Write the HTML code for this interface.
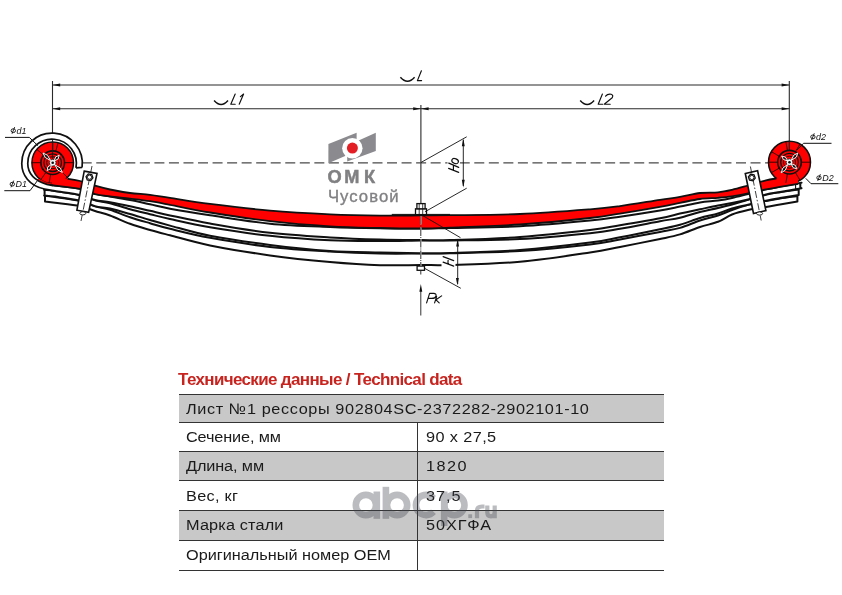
<!DOCTYPE html>
<html><head><meta charset="utf-8"><style>
html,body{margin:0;padding:0;background:#fff;width:842px;height:595px;overflow:hidden;position:relative}
svg,div{will-change:transform}
.t{position:absolute;font-family:"Liberation Sans",sans-serif;font-size:15.2px;line-height:15.2px;color:#1a1a1a;white-space:nowrap;transform:scaleX(1.07);transform-origin:0 0}
.title{position:absolute;left:177.6px;top:370.51px;font-family:"Liberation Sans",sans-serif;font-weight:bold;font-size:17px;line-height:17px;letter-spacing:-0.65px;color:#c8241f;white-space:nowrap}
</style></head><body>
<svg width="842" height="350" viewBox="0 0 842 350" style="position:absolute;left:0;top:0"><g stroke="#2a2a2a" stroke-width="1.1" fill="none"><path d="M52.5 81 V141 M789.3 81 V141 M420.9 105 V203.5"/><path d="M52.5 85.0 H789.3 M52.5 108.7 H789.3"/></g><path d="M52.50 85.00 L60.20 83.55 L60.20 86.45 Z" fill="#101010"/><path d="M789.30 85.00 L781.60 83.55 L781.60 86.45 Z" fill="#101010"/><path d="M52.50 108.70 L60.20 107.25 L60.20 110.15 Z" fill="#101010"/><path d="M789.30 108.70 L781.60 107.25 L781.60 110.15 Z" fill="#101010"/><path d="M420.90 108.70 L413.20 107.25 L413.20 110.15 Z" fill="#101010"/><path d="M420.90 108.70 L428.60 107.25 L428.60 110.15 Z" fill="#101010"/><path d="M400.4 77.2 Q407.5 85.2 414.6 77.2" stroke="#101010" stroke-width="1.5" fill="none"/><path d="M214.1 100.4 Q221.1 108.4 228.0 100.4" stroke="#101010" stroke-width="1.5" fill="none"/><path d="M580.2 100.4 Q587.2 108.4 594.1 100.4" stroke="#101010" stroke-width="1.5" fill="none"/><path d="M81.7 162.8 H776" stroke="#4a4a4a" stroke-width="1.3" stroke-dasharray="10 4.54" fill="none"/><g stroke="#101010" stroke-width="2" fill="#fff" stroke-linejoin="round"><path d="M45.00 196.00 C46.67 196.17 49.17 196.17 55.00 197.00 C60.83 197.83 73.33 199.43 80.00 201.00 C86.67 202.57 90.00 204.93 95.00 206.40 C100.00 207.87 104.17 208.00 110.00 209.80 C115.83 211.60 123.33 214.97 130.00 217.20 C136.67 219.43 143.33 221.27 150.00 223.20 C156.67 225.13 160.00 226.37 170.00 228.80 C180.00 231.23 193.33 234.78 210.00 237.80 C226.67 240.82 250.00 244.62 270.00 246.90 C290.00 249.18 311.67 250.40 330.00 251.50 C348.33 252.60 364.83 253.17 380.00 253.50 C395.17 253.83 409.33 253.55 421.00 253.50 C432.67 253.45 433.50 253.62 450.00 253.20 C466.50 252.78 496.67 252.45 520.00 251.00 C543.33 249.55 573.33 246.43 590.00 244.50 C606.67 242.57 608.33 241.48 620.00 239.40 C631.67 237.32 650.00 233.92 660.00 232.00 C670.00 230.08 673.33 229.82 680.00 227.90 C686.67 225.98 693.67 222.57 700.00 220.50 C706.33 218.43 712.67 217.25 718.00 215.50 C723.33 213.75 727.00 211.77 732.00 210.00 C737.00 208.23 742.33 206.42 748.00 204.90 C753.67 203.38 760.67 201.98 766.00 200.90 C771.33 199.82 774.77 199.21 780.00 198.40 C785.23 197.59 794.50 196.44 797.40 196.05 L797.40 201.53 C794.50 202.01 785.23 203.49 780.00 204.40 C774.77 205.31 771.33 206.07 766.00 207.00 C760.67 207.93 753.67 208.75 748.00 210.00 C742.33 211.25 737.00 212.53 732.00 214.50 C727.00 216.47 723.33 219.72 718.00 221.80 C712.67 223.88 706.33 224.90 700.00 227.00 C693.67 229.10 686.67 232.40 680.00 234.40 C673.33 236.40 670.00 236.92 660.00 239.00 C650.00 241.08 631.67 244.65 620.00 246.90 C608.33 249.15 606.67 250.02 590.00 252.50 C573.33 254.98 543.33 259.72 520.00 261.80 C496.67 263.88 466.50 264.47 450.00 265.00 C433.50 265.53 432.67 264.97 421.00 265.00 C409.33 265.03 395.17 265.70 380.00 265.20 C364.83 264.70 348.33 263.63 330.00 262.00 C311.67 260.37 290.00 258.17 270.00 255.40 C250.00 252.63 226.67 248.75 210.00 245.40 C193.33 242.05 180.00 237.87 170.00 235.30 C160.00 232.73 156.67 231.92 150.00 230.00 C143.33 228.08 136.67 226.22 130.00 223.80 C123.33 221.38 115.83 217.63 110.00 215.50 C104.17 213.37 100.00 212.55 95.00 211.00 C90.00 209.45 86.67 207.57 80.00 206.20 C73.33 204.83 60.83 203.58 55.00 202.80 C49.17 202.02 46.67 201.72 45.00 201.50 Z"/><path d="M44.60 189.96 C44.67 189.97 43.27 189.83 45.00 190.00 C46.73 190.17 49.17 190.13 55.00 191.00 C60.83 191.87 73.33 193.65 80.00 195.20 C86.67 196.75 90.00 198.97 95.00 200.30 C100.00 201.63 104.17 201.72 110.00 203.20 C115.83 204.68 123.33 207.37 130.00 209.20 C136.67 211.03 143.33 212.55 150.00 214.20 C156.67 215.85 160.00 216.92 170.00 219.10 C180.00 221.28 193.33 224.52 210.00 227.30 C226.67 230.08 250.00 233.63 270.00 235.80 C290.00 237.97 311.67 239.43 330.00 240.30 C348.33 241.17 364.83 240.97 380.00 241.00 C395.17 241.03 409.33 240.60 421.00 240.50 C432.67 240.40 433.50 240.63 450.00 240.40 C466.50 240.17 496.67 240.30 520.00 239.10 C543.33 237.90 573.33 234.92 590.00 233.20 C606.67 231.48 608.33 230.78 620.00 228.80 C631.67 226.82 650.00 223.15 660.00 221.30 C670.00 219.45 673.33 219.25 680.00 217.70 C686.67 216.15 693.67 213.62 700.00 212.00 C706.33 210.38 712.67 209.25 718.00 208.00 C723.33 206.75 727.00 205.88 732.00 204.50 C737.00 203.12 742.33 201.33 748.00 199.70 C753.67 198.07 760.67 195.95 766.00 194.70 C771.33 193.45 774.55 193.05 780.00 192.20 C785.45 191.35 795.58 190.02 798.70 189.58 L798.70 195.01 C795.58 195.53 785.45 197.15 780.00 198.10 C774.55 199.05 771.33 199.60 766.00 200.70 C760.67 201.80 753.67 203.40 748.00 204.70 C742.33 206.00 737.00 207.03 732.00 208.50 C727.00 209.97 723.33 211.92 718.00 213.50 C712.67 215.08 706.33 216.13 700.00 218.00 C693.67 219.87 686.67 222.83 680.00 224.70 C673.33 226.57 670.00 227.10 660.00 229.20 C650.00 231.30 631.67 235.07 620.00 237.30 C608.33 239.53 606.67 240.48 590.00 242.60 C573.33 244.72 543.33 248.27 520.00 250.00 C496.67 251.73 466.50 252.47 450.00 253.00 C433.50 253.53 432.67 253.28 421.00 253.20 C409.33 253.12 395.17 252.88 380.00 252.50 C364.83 252.12 348.33 252.17 330.00 250.90 C311.67 249.63 290.00 247.42 270.00 244.90 C250.00 242.38 226.67 239.02 210.00 235.80 C193.33 232.58 180.00 228.23 170.00 225.60 C160.00 222.97 156.67 221.93 150.00 220.00 C143.33 218.07 136.67 215.90 130.00 214.00 C123.33 212.10 115.83 209.92 110.00 208.60 C104.17 207.28 100.00 207.43 95.00 206.10 C90.00 204.77 86.67 202.18 80.00 200.60 C73.33 199.02 60.83 197.45 55.00 196.60 C49.17 195.75 46.73 195.69 45.00 195.50 C43.27 195.31 44.67 195.46 44.60 195.46 Z"/><path d="M47.00 184.48 C48.33 184.67 49.50 184.88 55.00 185.60 C60.50 186.32 73.33 187.40 80.00 188.80 C86.67 190.20 90.00 192.72 95.00 194.00 C100.00 195.28 104.17 195.48 110.00 196.50 C115.83 197.52 123.33 198.80 130.00 200.10 C136.67 201.40 143.33 202.87 150.00 204.30 C156.67 205.73 160.00 206.88 170.00 208.70 C180.00 210.52 193.33 212.70 210.00 215.20 C226.67 217.70 250.00 221.73 270.00 223.70 C290.00 225.67 311.67 226.23 330.00 227.00 C348.33 227.77 364.83 228.05 380.00 228.30 C395.17 228.55 409.33 228.57 421.00 228.50 C432.67 228.43 433.50 228.27 450.00 227.90 C466.50 227.53 496.67 227.52 520.00 226.30 C543.33 225.08 573.33 222.20 590.00 220.60 C606.67 219.00 608.33 218.38 620.00 216.70 C631.67 215.02 650.00 212.18 660.00 210.50 C670.00 208.82 673.33 207.93 680.00 206.60 C686.67 205.27 693.67 203.52 700.00 202.50 C706.33 201.48 712.67 201.25 718.00 200.50 C723.33 199.75 727.00 199.08 732.00 198.00 C737.00 196.92 742.33 195.43 748.00 194.00 C753.67 192.57 760.67 190.63 766.00 189.40 C771.33 188.17 774.33 187.67 780.00 186.60 C785.67 185.53 796.62 183.61 800.00 183.00 C803.38 182.39 800.25 182.95 800.30 182.95 L800.30 188.45 C800.25 188.46 803.38 187.92 800.00 188.50 C796.62 189.08 785.67 190.92 780.00 191.90 C774.33 192.88 771.33 193.13 766.00 194.40 C760.67 195.67 753.67 198.05 748.00 199.50 C742.33 200.95 737.00 202.10 732.00 203.10 C727.00 204.10 723.33 204.47 718.00 205.50 C712.67 206.53 706.33 207.95 700.00 209.30 C693.67 210.65 686.67 212.12 680.00 213.60 C673.33 215.08 670.00 216.27 660.00 218.20 C650.00 220.13 631.67 223.23 620.00 225.20 C608.33 227.17 606.67 228.03 590.00 230.00 C573.33 231.97 543.33 235.33 520.00 237.00 C496.67 238.67 466.50 239.50 450.00 240.00 C433.50 240.50 432.67 240.08 421.00 240.00 C409.33 239.92 395.17 239.93 380.00 239.50 C364.83 239.07 348.33 238.52 330.00 237.40 C311.67 236.28 290.00 235.12 270.00 232.80 C250.00 230.48 226.67 226.40 210.00 223.50 C193.33 220.60 180.00 217.52 170.00 215.40 C160.00 213.28 156.67 212.33 150.00 210.80 C143.33 209.27 136.67 207.63 130.00 206.20 C123.33 204.77 115.83 203.23 110.00 202.20 C104.17 201.17 100.00 201.22 95.00 200.00 C90.00 198.78 86.67 196.40 80.00 194.90 C73.33 193.40 60.50 191.92 55.00 191.00 C49.50 190.08 48.33 189.67 47.00 189.40 Z" stroke="none"/><path d="M47.00 184.48 C48.33 184.67 49.50 184.88 55.00 185.60 C60.50 186.32 73.33 187.40 80.00 188.80 C86.67 190.20 90.00 192.72 95.00 194.00 C100.00 195.28 104.17 195.48 110.00 196.50 C115.83 197.52 123.33 198.80 130.00 200.10 C136.67 201.40 143.33 202.87 150.00 204.30 C156.67 205.73 160.00 206.88 170.00 208.70 C180.00 210.52 193.33 212.70 210.00 215.20 C226.67 217.70 250.00 221.73 270.00 223.70 C290.00 225.67 311.67 226.23 330.00 227.00 C348.33 227.77 364.83 228.05 380.00 228.30 C395.17 228.55 409.33 228.57 421.00 228.50 C432.67 228.43 433.50 228.27 450.00 227.90 C466.50 227.53 496.67 227.52 520.00 226.30 C543.33 225.08 573.33 222.20 590.00 220.60 C606.67 219.00 608.33 218.38 620.00 216.70 C631.67 215.02 650.00 212.18 660.00 210.50 C670.00 208.82 673.33 207.93 680.00 206.60 C686.67 205.27 693.67 203.52 700.00 202.50 C706.33 201.48 712.67 201.25 718.00 200.50 C723.33 199.75 727.00 199.08 732.00 198.00 C737.00 196.92 742.33 195.43 748.00 194.00 C753.67 192.57 760.67 190.63 766.00 189.40 C771.33 188.17 774.33 187.67 780.00 186.60 C785.67 185.53 796.62 183.61 800.00 183.00 C803.38 182.39 800.25 182.95 800.30 182.95 M44.00 188.80 C44.17 188.83 43.17 188.63 45.00 189.00 C46.83 189.37 49.17 190.02 55.00 191.00 C60.83 191.98 73.33 193.40 80.00 194.90 C86.67 196.40 90.00 198.78 95.00 200.00 C100.00 201.22 104.17 201.17 110.00 202.20 C115.83 203.23 123.33 204.77 130.00 206.20 C136.67 207.63 143.33 209.27 150.00 210.80 C156.67 212.33 160.00 213.28 170.00 215.40 C180.00 217.52 193.33 220.60 210.00 223.50 C226.67 226.40 250.00 230.48 270.00 232.80 C290.00 235.12 311.67 236.28 330.00 237.40 C348.33 238.52 364.83 239.07 380.00 239.50 C395.17 239.93 409.33 239.92 421.00 240.00 C432.67 240.08 433.50 240.50 450.00 240.00 C466.50 239.50 496.67 238.67 520.00 237.00 C543.33 235.33 573.33 231.97 590.00 230.00 C606.67 228.03 608.33 227.17 620.00 225.20 C631.67 223.23 650.00 220.13 660.00 218.20 C670.00 216.27 673.33 215.08 680.00 213.60 C686.67 212.12 693.67 210.65 700.00 209.30 C706.33 207.95 712.67 206.53 718.00 205.50 C723.33 204.47 727.00 204.10 732.00 203.10 C737.00 202.10 742.33 200.95 748.00 199.50 C753.67 198.05 760.67 195.67 766.00 194.40 C771.33 193.13 774.33 192.88 780.00 191.90 C785.67 190.92 796.62 189.08 800.00 188.50 C803.38 187.92 800.25 188.46 800.30 188.45 M800.3 182.95 V188.45" fill="none"/></g><path d="M82.09 167.40 A30.30 30.30 0 1 0 21.75 163.45 C21.75 174.5 29 186 44.6 189 L52 190.4 L53 185.6 L46.9 184.4 C33 180 27.8 172.5 27.75 163.45 A24.30 24.30 0 1 1 75.94 167.88 Z" fill="#fff"/><circle cx="52.7" cy="162.7" r="20.8" fill="#f00" stroke="#101010" stroke-width="1.5"/><circle cx="789.5" cy="162.2" r="21" fill="#f00" stroke="#101010" stroke-width="1.5"/><path d="M52.00 176.28 C52.50 176.30 50.33 175.61 55.00 176.40 C59.67 177.19 73.33 179.45 80.00 181.00 C86.67 182.55 90.00 184.28 95.00 185.70 C100.00 187.12 104.17 188.28 110.00 189.50 C115.83 190.72 123.33 192.12 130.00 193.00 C136.67 193.88 143.33 193.98 150.00 194.80 C156.67 195.62 160.00 196.38 170.00 197.90 C180.00 199.42 193.33 201.78 210.00 203.90 C226.67 206.02 250.00 208.87 270.00 210.60 C290.00 212.33 311.67 213.47 330.00 214.30 C348.33 215.13 364.83 215.42 380.00 215.60 C395.17 215.78 409.33 215.47 421.00 215.40 C432.67 215.33 433.50 215.43 450.00 215.20 C466.50 214.97 496.67 214.98 520.00 214.00 C543.33 213.02 573.33 210.62 590.00 209.30 C606.67 207.98 608.33 207.68 620.00 206.10 C631.67 204.52 650.00 201.33 660.00 199.80 C670.00 198.27 673.33 198.03 680.00 196.90 C686.67 195.77 693.67 193.77 700.00 193.00 C706.33 192.23 712.67 192.83 718.00 192.30 C723.33 191.77 727.00 190.93 732.00 189.80 C737.00 188.67 742.33 187.07 748.00 185.50 C753.67 183.93 760.67 181.68 766.00 180.40 C771.33 179.12 774.67 178.58 780.00 177.80 C785.33 177.02 795.00 176.07 798.00 175.73 L798.00 183.83 C795.00 184.33 785.33 185.87 780.00 186.80 C774.67 187.73 771.33 188.32 766.00 189.40 C760.67 190.48 753.67 192.15 748.00 193.30 C742.33 194.45 737.00 195.55 732.00 196.30 C727.00 197.05 723.33 197.35 718.00 197.80 C712.67 198.25 706.33 198.15 700.00 199.00 C693.67 199.85 686.67 201.60 680.00 202.90 C673.33 204.20 670.00 205.02 660.00 206.80 C650.00 208.58 631.67 211.73 620.00 213.60 C608.33 215.47 606.67 216.18 590.00 218.00 C573.33 219.82 543.33 222.88 520.00 224.50 C496.67 226.12 466.50 227.03 450.00 227.70 C433.50 228.37 432.67 228.45 421.00 228.50 C409.33 228.55 395.17 228.37 380.00 228.00 C364.83 227.63 348.33 227.45 330.00 226.30 C311.67 225.15 290.00 223.40 270.00 221.10 C250.00 218.80 226.67 215.22 210.00 212.50 C193.33 209.78 180.00 206.68 170.00 204.80 C160.00 202.92 156.67 202.23 150.00 201.20 C143.33 200.17 136.67 199.42 130.00 198.60 C123.33 197.78 115.83 197.07 110.00 196.30 C104.17 195.53 100.00 195.25 95.00 194.00 C90.00 192.75 86.67 190.20 80.00 188.80 C73.33 187.40 59.67 186.20 55.00 185.60 C50.33 185.00 52.50 185.25 52.00 185.18 Z" fill="#f00"/><path d="M39.89 179.09 A20.8 20.8 0 0 0 64.63 179.74 L68 187.2 L53 185.6 L46.9 184.4 L36.5 179.2 Z" fill="#f00"/><path d="M82.09 167.40 A30.30 30.30 0 1 0 21.75 163.45 C21.75 174.5 29 186 44.6 189 L52 190.4 M75.94 167.88 A24.30 24.30 0 1 0 27.75 163.45 C27.8 172.5 33 180 46.9 184.4 L53 185.6 M82.09 167.40 L75.94 167.88" stroke="#101010" stroke-width="1.7" fill="none"/><path d="M795.6 184 V189" stroke="#101010" stroke-width="1.1"/><path d="M67.50 178.70 C69.58 179.08 75.42 179.83 80.00 181.00 C84.58 182.17 90.00 184.28 95.00 185.70 C100.00 187.12 104.17 188.28 110.00 189.50 C115.83 190.72 123.33 192.12 130.00 193.00 C136.67 193.88 143.33 193.98 150.00 194.80 C156.67 195.62 160.00 196.38 170.00 197.90 C180.00 199.42 193.33 201.78 210.00 203.90 C226.67 206.02 250.00 208.87 270.00 210.60 C290.00 212.33 311.67 213.47 330.00 214.30 C348.33 215.13 364.83 215.42 380.00 215.60 C395.17 215.78 409.33 215.47 421.00 215.40 C432.67 215.33 433.50 215.43 450.00 215.20 C466.50 214.97 496.67 214.98 520.00 214.00 C543.33 213.02 573.33 210.62 590.00 209.30 C606.67 207.98 608.33 207.68 620.00 206.10 C631.67 204.52 650.00 201.33 660.00 199.80 C670.00 198.27 673.33 198.03 680.00 196.90 C686.67 195.77 693.67 193.77 700.00 193.00 C706.33 192.23 712.67 192.83 718.00 192.30 C723.33 191.77 727.00 190.93 732.00 189.80 C737.00 188.67 742.33 187.07 748.00 185.50 C753.67 183.93 761.25 181.57 766.00 180.40 C770.75 179.23 774.75 178.78 776.50 178.45 M50.00 184.90 C50.83 185.02 50.00 184.95 55.00 185.60 C60.00 186.25 73.33 187.40 80.00 188.80 C86.67 190.20 90.00 192.75 95.00 194.00 C100.00 195.25 104.17 195.53 110.00 196.30 C115.83 197.07 123.33 197.78 130.00 198.60 C136.67 199.42 143.33 200.17 150.00 201.20 C156.67 202.23 160.00 202.92 170.00 204.80 C180.00 206.68 193.33 209.78 210.00 212.50 C226.67 215.22 250.00 218.80 270.00 221.10 C290.00 223.40 311.67 225.15 330.00 226.30 C348.33 227.45 364.83 227.63 380.00 228.00 C395.17 228.37 409.33 228.55 421.00 228.50 C432.67 228.45 433.50 228.37 450.00 227.70 C466.50 227.03 496.67 226.12 520.00 224.50 C543.33 222.88 573.33 219.82 590.00 218.00 C606.67 216.18 608.33 215.47 620.00 213.60 C631.67 211.73 650.00 208.58 660.00 206.80 C670.00 205.02 673.33 204.20 680.00 202.90 C686.67 201.60 693.67 199.85 700.00 199.00 C706.33 198.15 712.67 198.25 718.00 197.80 C723.33 197.35 727.00 197.05 732.00 196.30 C737.00 195.55 742.33 194.45 748.00 193.30 C753.67 192.15 760.67 190.48 766.00 189.40 C771.33 188.32 774.67 187.73 780.00 186.80 C785.33 185.87 795.00 184.33 798.00 183.83" stroke="#101010" stroke-width="1.8" fill="none" stroke-linejoin="round"/><path d="M55.81 151.11 L58.08 142.61" stroke="#200" stroke-width="0.9"/><path d="M52.70 150.70 L52.70 141.90" stroke="#200" stroke-width="0.9"/><path d="M40.70 162.70 L31.90 162.70" stroke="#200" stroke-width="0.9"/><path d="M64.70 162.70 L73.50 162.70" stroke="#200" stroke-width="0.9"/><path d="M50.62 174.52 L49.09 183.18" stroke="#200" stroke-width="0.9"/><path d="M45.82 172.53 L40.77 179.74" stroke="#200" stroke-width="0.9"/><path d="M43.51 154.99 L36.77 149.33" stroke="#200" stroke-width="0.9"/><path d="M61.19 171.19 L67.41 177.41" stroke="#200" stroke-width="0.9"/><circle cx="52.70" cy="162.70" r="11.8" fill="none" stroke="#101010" stroke-width="1.6"/><circle cx="52.70" cy="162.70" r="8.8" fill="none" stroke="#101010" stroke-width="1.3"/><circle cx="52.70" cy="162.70" r="6" fill="none" stroke="#300" stroke-width="1"/><circle cx="52.70" cy="162.70" r="3.4" fill="#f4f4f4" stroke="#101010" stroke-width="0.8"/><path d="M43.00 153.00 L45.26 157.53 L50.57 160.57 L47.53 155.26 Z" fill="#111" stroke="#fff" stroke-width="0.95" stroke-linejoin="round"/><path d="M62.40 172.40 L60.14 167.87 L54.83 164.83 L57.87 170.14 Z" fill="#111" stroke="#fff" stroke-width="0.95" stroke-linejoin="round"/><path d="M59.20 155.30 L55.72 156.83 L54.13 161.07 L58.13 158.95 Z" fill="#111" stroke="#fff" stroke-width="0.95" stroke-linejoin="round"/><path d="M47.20 170.60 L50.44 168.75 L51.49 164.44 L47.81 166.92 Z" fill="#111" stroke="#fff" stroke-width="0.95" stroke-linejoin="round"/><circle cx="52.70" cy="162.70" r="1.3" fill="#111"/><path d="M787.42 150.38 L785.85 141.52" stroke="#200" stroke-width="0.9"/><path d="M795.50 151.81 L800.00 144.01" stroke="#200" stroke-width="0.9"/><path d="M801.50 162.20 L810.50 162.20" stroke="#200" stroke-width="0.9"/><path d="M777.50 162.20 L768.50 162.20" stroke="#200" stroke-width="0.9"/><path d="M795.50 172.59 L800.00 180.39" stroke="#200" stroke-width="0.9"/><path d="M787.42 174.02 L785.85 182.88" stroke="#200" stroke-width="0.9"/><path d="M779.11 156.20 L771.31 151.70" stroke="#200" stroke-width="0.9"/><path d="M779.11 168.20 L771.31 172.70" stroke="#200" stroke-width="0.9"/><circle cx="789.50" cy="162.20" r="11.8" fill="none" stroke="#101010" stroke-width="1.6"/><circle cx="789.50" cy="162.20" r="8.8" fill="none" stroke="#101010" stroke-width="1.3"/><circle cx="789.50" cy="162.20" r="6" fill="none" stroke="#300" stroke-width="1"/><circle cx="789.50" cy="162.20" r="3.4" fill="#f4f4f4" stroke="#101010" stroke-width="0.8"/><path d="M781.70 156.20 L783.45 159.57 L787.78 160.88 L785.41 157.03 Z" fill="#111" stroke="#fff" stroke-width="0.95" stroke-linejoin="round"/><path d="M796.80 168.80 L795.32 165.30 L791.11 163.65 L793.17 167.68 Z" fill="#111" stroke="#fff" stroke-width="0.95" stroke-linejoin="round"/><path d="M797.80 153.10 L793.71 155.21 L791.33 160.20 L796.08 157.36 Z" fill="#111" stroke="#fff" stroke-width="0.95" stroke-linejoin="round"/><path d="M781.20 172.80 L785.36 170.08 L787.67 164.53 L782.85 168.10 Z" fill="#111" stroke="#fff" stroke-width="0.95" stroke-linejoin="round"/><circle cx="789.50" cy="162.20" r="1.3" fill="#111"/><path d="M52.5 141 V159 M789.3 141 V150" stroke="#1a1a1a" stroke-width="1.1"/><path d="M84.20 171.10 L97.00 173.40 L88.60 212.30 L76.90 210.20 Z" fill="#fff" stroke="#101010" stroke-width="1.6"/><path d="M92.00 166.00 L81.00 221.00" stroke="#101010" stroke-width="0.8" stroke-dasharray="7 2 1.5 2"/><path d="M92.95 177.81 L90.70 180.49 L87.25 179.88 L86.05 176.59 L88.30 173.91 L91.75 174.52 Z" fill="#fff" stroke="#101010" stroke-width="1.3"/><circle cx="89.50" cy="177.20" r="2.1" fill="none" stroke="#101010" stroke-width="0.9"/><ellipse cx="82.80" cy="213.30" rx="3" ry="1.6" fill="#fff" stroke="#101010" stroke-width="0.9"/><path d="M745.30 173.50 L757.60 170.80 L765.90 210.60 L753.50 213.50 Z" fill="#fff" stroke="#101010" stroke-width="1.6"/><path d="M750.40 166.50 L761.20 220.50" stroke="#101010" stroke-width="0.8" stroke-dasharray="7 2 1.5 2"/><path d="M755.25 178.11 L753.00 180.79 L749.55 180.18 L748.35 176.89 L750.60 174.21 L754.05 174.82 Z" fill="#fff" stroke="#101010" stroke-width="1.3"/><circle cx="751.80" cy="177.50" r="2.1" fill="none" stroke="#101010" stroke-width="0.9"/><ellipse cx="759.60" cy="213.50" rx="3" ry="1.6" fill="#fff" stroke="#101010" stroke-width="0.9"/><path d="M447.5 156.5 L460 156.5 L460 174 L447.5 174 Z M441.5 255 L455.5 255 L455.5 267.5 L441.5 267.5 Z" fill="#fff"/><path d="M421.4 70.8 L417.4 80.6 H421.6 M235.2 94 L230.8 104.2 H235.2 M243.6 94 L239.2 104.2 M243.6 94 L240.4 96.6 M602.4 94 L598.2 104.2 H602.6 M605.6 96.2 Q607.5 93.6 611.2 94.2 Q613.6 95 612.2 97.8 L604.2 104.2 H610.2 M448.6 168.4 L458.7 172.4 M448.8 163.1 L458.7 167.4 M453.4 165.3 L453.4 169.9 M443.1 256.6 L453.7 260.6 M443.1 262.1 L453.7 266.1 M448.2 258.8 L447.9 264 M426.6 302.9 L429.6 293.4 H433.6 Q436.6 293.6 436 296 Q435.4 298.4 431.6 298.4 H428.2 M434.6 302.9 L436.6 296.6 M441.6 295.9 L436 299.8 L439.2 302.9" stroke="#101010" stroke-width="1.15" fill="none" stroke-linecap="round" stroke-linejoin="round"/><ellipse cx="455.1" cy="161.1" rx="2.4" ry="3.4" transform="rotate(-68 455.1 161.1)" stroke="#101010" stroke-width="1.1" fill="none"/><path d="M391.8 214.4 H450" stroke="#101010" stroke-width="1"/><rect x="415.5" y="208.8" width="11" height="5.8" fill="#fff" stroke="#101010" stroke-width="1.3"/><rect x="416.9" y="203.6" width="8.2" height="5.2" fill="#fff" stroke="#101010" stroke-width="1.3"/><path d="M419.2 204 V214 M422.7 204 V214" stroke="#101010" stroke-width="0.8"/><rect x="417.1" y="266.1" width="7.4" height="4.2" fill="#fff" stroke="#101010" stroke-width="1.3"/><path d="M420.8 216 V266" stroke="#fff" stroke-width="1.4" stroke-dasharray="8.5 3"/><path d="M420.8 216 V266" stroke="#333" stroke-width="1" stroke-dasharray="8.5 1 1 1"/><path d="M420.8 270.5 V274.5 M420.8 290 V315.5" stroke="#333" stroke-width="1"/><path d="M420.80 284.00 L419.35 291.70 L422.25 291.70 Z" fill="#101010"/><path d="M420.9 162.5 L466.7 136.8 M425.1 211.7 L466.7 188.2 M463.3 140 V186 M422.6 215.5 L460.5 237.7 M424.4 268.2 L460.8 288.3 M457.7 241 V284" stroke="#101010" stroke-width="0.9" fill="none"/><path d="M463.30 138.60 L461.85 146.30 L464.75 146.30 Z" fill="#101010"/><path d="M463.30 187.40 L461.85 179.70 L464.75 179.70 Z" fill="#101010"/><path d="M457.60 238.80 L456.15 246.50 L459.05 246.50 Z" fill="#101010"/><path d="M457.40 285.60 L455.95 277.90 L458.85 277.90 Z" fill="#101010"/><path d="M5 137.4 H29.3 L37.9 145.7 M4.3 190.7 H30 L37.9 180 M831.5 143.3 H803.5 L797 150 M838.3 183.7 H811 L805.8 178.4" stroke="#101010" stroke-width="1" fill="none"/><ellipse cx="13.30" cy="130.67" rx="2.2" ry="1.9" stroke="#101010" stroke-width="0.9" fill="none"/><path d="M14.70 127.10 L12.00 133.80" stroke="#101010" stroke-width="0.9"/><text x="0.00" y="133.60" font-family="Liberation Sans" font-style="italic" font-size="9.4" fill="#101010" transform="translate(16.50 0) scale(0.95 1) translate(0.00 0)">d1</text><ellipse cx="12.30" cy="184.17" rx="2.2" ry="1.9" stroke="#101010" stroke-width="0.9" fill="none"/><path d="M13.70 180.60 L11.00 187.30" stroke="#101010" stroke-width="0.9"/><text x="0.00" y="187.10" font-family="Liberation Sans" font-style="italic" font-size="9.4" fill="#101010" transform="translate(15.50 0) scale(0.95 1) translate(0.00 0)">D1</text><ellipse cx="812.90" cy="136.88" rx="2.2" ry="1.9" stroke="#101010" stroke-width="0.9" fill="none"/><path d="M814.30 133.30 L811.60 140.00" stroke="#101010" stroke-width="0.9"/><text x="0.00" y="139.80" font-family="Liberation Sans" font-style="italic" font-size="9.4" fill="#101010" transform="translate(816.10 0) scale(0.95 1) translate(0.00 0)">d2</text><ellipse cx="819.00" cy="177.77" rx="2.2" ry="1.9" stroke="#101010" stroke-width="0.9" fill="none"/><path d="M820.40 174.20 L817.70 180.90" stroke="#101010" stroke-width="0.9"/><text x="0.00" y="180.70" font-family="Liberation Sans" font-style="italic" font-size="9.4" fill="#101010" transform="translate(822.20 0) scale(0.95 1) translate(0.00 0)">D2</text><path d="M328.4 144.1 L356.6 132.7 V151 L328.4 163.3 Z" fill="#8b8b8f"/><path d="M358.6 140.4 L375.8 132.7 V150.9 L347.2 161.6 V155 L358.6 146 Z" fill="#8b8b8f"/><circle cx="352.35" cy="148.25" r="10.2" fill="#fff"/><circle cx="352.4" cy="148.1" r="5.5" fill="#e31e24"/><text y="182.8" font-family="Liberation Sans" font-weight="bold" font-size="18.2" fill="#808083" stroke="#808083" stroke-width="0.5"><tspan x="327.5">О</tspan><tspan x="344.3">М</tspan><tspan x="364">К</tspan></text><text x="327.9" y="201.7" font-family="Liberation Sans" font-size="16.7" letter-spacing="1.05" fill="#808083" stroke="#808083" stroke-width="0.35">Чусовой</text></svg>
<div class="title">Технические данные / Technical data</div>
<div style="position:absolute;left:179px;top:394.6px;width:485px;height:27.8px;background:#c8c8c8"></div>
<div class="t" style="left:186.2px;top:401.33px;letter-spacing:0.57px">Лист №1 рессоры 902804SC-2372282-2902101-10</div>
<div style="position:absolute;left:179px;top:422.4px;width:485px;height:29.1px;background:#fff"></div>
<div class="t" style="left:186.2px;top:429.13px;letter-spacing:-0.12px">Сечение, мм</div>
<div class="t" style="left:425.8px;top:429.13px;letter-spacing:0.38px">90 x 27,5</div>
<div style="position:absolute;left:179px;top:451.5px;width:485px;height:29.3px;background:#c8c8c8"></div>
<div class="t" style="left:186.2px;top:458.23px;letter-spacing:-0.10px">Длина, мм</div>
<div class="t" style="left:425.8px;top:458.23px;letter-spacing:1.36px">1820</div>
<div style="position:absolute;left:179px;top:480.8px;width:485px;height:29.7px;background:#fff"></div>
<div class="t" style="left:186.2px;top:487.53px;letter-spacing:0.29px">Вес, кг</div>
<div class="t" style="left:425.8px;top:487.53px;letter-spacing:0.88px">37,5</div>
<div style="position:absolute;left:179px;top:510.5px;width:485px;height:30.0px;background:#c8c8c8"></div>
<div class="t" style="left:186.2px;top:517.23px;letter-spacing:0.15px">Марка стали</div>
<div class="t" style="left:425.8px;top:517.23px;letter-spacing:0.85px">50ХГФА</div>
<div style="position:absolute;left:179px;top:540.5px;width:485px;height:30.0px;background:#fff"></div>
<div class="t" style="left:186.2px;top:547.23px;letter-spacing:0.00px">Оригинальный номер OEM</div>
<div style="position:absolute;left:179px;top:394.0px;width:485px;height:1.3px;background:#333"></div>
<div style="position:absolute;left:179px;top:421.8px;width:485px;height:1.3px;background:#333"></div>
<div style="position:absolute;left:179px;top:450.9px;width:485px;height:1.3px;background:#333"></div>
<div style="position:absolute;left:179px;top:480.2px;width:485px;height:1.3px;background:#333"></div>
<div style="position:absolute;left:179px;top:509.9px;width:485px;height:1.3px;background:#333"></div>
<div style="position:absolute;left:179px;top:539.9px;width:485px;height:1.3px;background:#333"></div>
<div style="position:absolute;left:179px;top:569.9px;width:485px;height:1.3px;background:#333"></div>
<div style="position:absolute;left:416.7px;top:422.4px;width:1.3px;height:148.1px;background:#333"></div>
<svg width="842" height="595" style="position:absolute;left:0;top:0"><g opacity="0.36" fill="none" stroke="#44464e" stroke-width="6.6"><circle cx="365.9" cy="505" r="10.10"/><path d="M376.8 491.5 V518.8"/><circle cx="397.1" cy="505" r="10.10"/><path d="M385.9 486.8 V518.8"/><path d="M433.5 498.2 A10.10 10.10 0 1 0 433.5 511.8"/><circle cx="454.4" cy="505" r="10.10"/><path d="M444.2 491.5 V526"/></g><g opacity="0.36" fill="none" stroke="#44464e" stroke-width="4.2"><rect x="468.3" y="514.3" width="3.8" height="3.8" fill="#44464e" stroke="none"/><path d="M477 518.3 V510.5 Q477 506.5 482 506.5 H484.5"/><path d="M487.3 505.4 V512.5 Q487.3 516.3 491 516.3 Q494.7 516.3 494.7 512.5 M494.7 505.4 V518.3"/></g></svg>
</body></html>
